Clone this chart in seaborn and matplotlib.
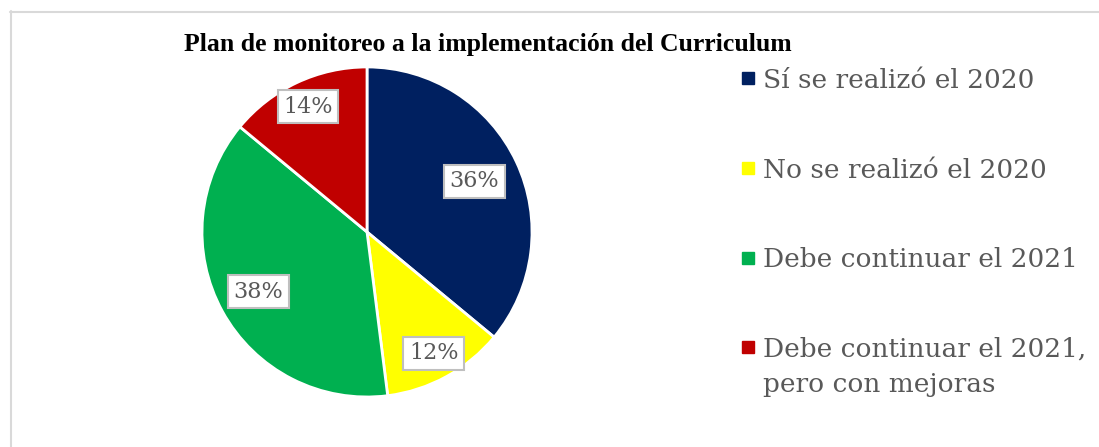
import matplotlib
matplotlib.use("Agg")
import matplotlib.pyplot as plt
from matplotlib.lines import Line2D
import seaborn as sns

labels = ["Sí se realizó el 2020", "No se realizó el 2020",
          "Debe continuar el 2021", "Debe continuar el 2021,\npero con mejoras"]
values = [36, 12, 38, 14]
colors = ["#002060", "#FFFF00", "#00B050", "#C00000"]
title = "Plan de monitoreo a la implementación del Curriculum"

sns.set_theme(style="white")
plt.rcParams['font.family'] = ['DejaVu Serif']

fig = plt.figure(figsize=(10.99, 4.47), dpi=100)
ax = fig.add_axes([0.1838, 0.1119, 0.3003, 0.7383])

# pie, clockwise from 12 o'clock like the Excel original
wedges, _, autotexts = ax.pie(values, colors=colors, startangle=90, counterclock=False,
                              autopct="%d%%", pctdistance=0.78,
                              wedgeprops=dict(edgecolor="white", linewidth=2),
                              textprops=dict(color="#595959", fontsize=16, family="DejaVu Serif"))
for t, r in zip(autotexts, [0.72, 0.84, 0.75, 0.84]):
    x, y = t.get_position()
    d = (x * x + y * y) ** 0.5
    t.set_position((x / d * r, y / d * r))
    t.set_bbox(dict(boxstyle="square,pad=0.25", facecolor="white", edgecolor="#BFBFBF", linewidth=1.5))
ax.set_xlim(-1, 1)
ax.set_ylim(-1, 1)
ax.set_aspect("equal")

fig.text(488 / 1099, 1 - 45 / 447, title, ha="center", va="center", fontsize=18.5,
         fontweight="bold", family="Liberation Serif", color="black")

handles = [Line2D([], [], linestyle="none", marker="s", markersize=8.5,
                  markerfacecolor=c, markeredgecolor=c) for c in colors]
leg = fig.legend(handles, labels, loc="upper left", bbox_to_anchor=(0.652, 0.901),
                 frameon=False, labelspacing=2.45, handlelength=0.6,
                 handleheight=1.0, handletextpad=0.25, labelcolor="#595959",
                 prop=dict(family="DejaVu Serif", size=19))
for t in leg.get_texts():
    t.set_linespacing(1.5)
# marker next to the first line of a wrapped label
for col in leg._legend_handle_box.get_children():
    for item in col.get_children():
        item.align = "top"

fig.add_artist(Line2D([10 / 1099, 1], [1 - 11.5 / 447] * 2, transform=fig.transFigure,
                      color="#D9D9D9", linewidth=1.5))
fig.add_artist(Line2D([10.5 / 1099] * 2, [0, 1 - 11 / 447], transform=fig.transFigure,
                      color="#D9D9D9", linewidth=1.5))

fig.savefig("out.png", dpi=100)
